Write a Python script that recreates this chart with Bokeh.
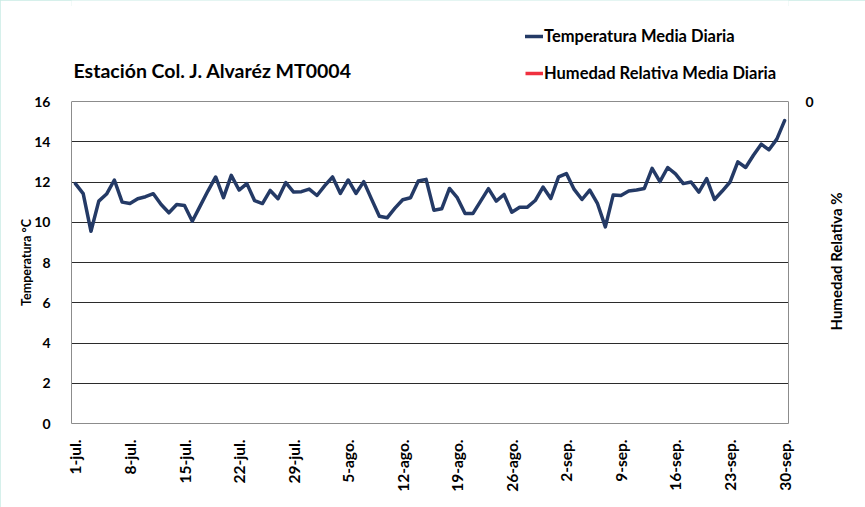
import math
from bokeh.plotting import figure
from bokeh.models import Range1d, LinearAxis, FixedTicker, Label, Legend, LegendItem, Span
from bokeh.embed import file_html
from bokeh.resources import INLINE

# ---- data ----
days = list(range(1, 93))
temps = [
    11.92, 11.42, 9.55, 11.05, 11.40, 12.10, 11.00, 10.93, 11.17, 11.27,
    11.42, 10.88, 10.47, 10.88, 10.83, 10.05, 10.80, 11.55, 12.25, 11.22,
    12.33, 11.60, 11.92, 11.07, 10.93, 11.58, 11.17, 11.97, 11.50, 11.52,
    11.65, 11.33, 11.82, 12.25, 11.43, 12.10, 11.43, 12.02, 11.15, 10.30,
    10.22, 10.70, 11.12, 11.22, 12.05, 12.13, 10.60, 10.67, 11.68, 11.22,
    10.43, 10.43, 11.05, 11.67, 11.05, 11.38, 10.50, 10.75, 10.75, 11.08,
    11.75, 11.18, 12.25, 12.42, 11.63, 11.13, 11.60, 10.92, 9.77, 11.35,
    11.33, 11.55, 11.60, 11.68, 12.68, 12.02, 12.72, 12.40, 11.92, 12.00,
    11.50, 12.17, 11.13, 11.55, 12.00, 13.00, 12.72, 13.33, 13.88, 13.60,
    14.13, 15.05,
]
# the humidity series has no visible readings in the chart
humidity = [float("nan")] * len(days)

tick_days = [1, 8, 15, 22, 29, 36, 43, 50, 57, 64, 71, 78, 85, 92]
tick_labels = ["1-jul.", "8-jul.", "15-jul.", "22-jul.", "29-jul.", "5-ago.",
               "12-ago.", "19-ago.", "26-ago.", "2-sep.", "9-sep.", "16-sep.",
               "23-sep.", "30-sep."]
y_ticks = [0, 2, 4, 6, 8, 10, 12, 14, 16]
grid_ticks = [2, 4, 6, 8, 10, 12, 14]
hum_ticks = [0]

title_text = "Estación Col. J. Alvaréz  MT0004"
temp_name = "Temperatura Media Diaria"
hum_name = "Humedad Relativa Media Diaria"
ylabel_left = "Temperatura °C"
ylabel_right = "Humedad Relativa %"

FONT = "Lato"
BORDER = "#8c8c8c"

# Frame reaches the top of the canvas so title/legend (above the 16 line)
# are drawn inside it; axis bounds keep the axes between 0 and 16.
Y_TOP = 16 + 101 / 20.125

p = figure(width=865, height=507,
           x_range=Range1d(0.5, 92.5), y_range=Range1d(0, Y_TOP),
           output_backend="svg", toolbar_location=None,
           min_border_left=71, min_border_right=77,
           min_border_top=0, min_border_bottom=84)
p.background_fill_color = "white"
p.border_fill_color = "white"
p.outline_line_color = None
p.styles = {"outline": "6px solid #c9ebe4", "outline-offset": "-6px"}

p.extra_y_ranges = {"hum": Range1d(-16, Y_TOP - 16)}

# grid
p.xgrid.grid_line_color = None
p.ygrid.ticker = FixedTicker(ticks=grid_ticks)
p.ygrid.grid_line_color = "#2b2b2b"
p.ygrid.grid_line_width = 1
p.add_layout(Span(location=16, dimension="width", line_color=BORDER, line_width=1))

# x axis
xa = p.xaxis[0]
xa.ticker = FixedTicker(ticks=tick_days)
xa.major_label_overrides = {d: l for d, l in zip(tick_days, tick_labels)}
xa.major_label_orientation = math.pi / 2
xa.major_label_text_font = FONT
xa.major_label_text_font_style = "bold"
xa.major_label_text_font_size = "15.5px"
xa.major_label_text_color = "black"
xa.major_label_standoff = 10
xa.axis_line_color = BORDER
xa.major_tick_line_color = None
xa.minor_tick_line_color = None

# left y axis
ya = p.yaxis[0]
ya.ticker = FixedTicker(ticks=y_ticks)
ya.bounds = (0, 16)
ya.major_label_text_font = FONT
ya.major_label_text_font_style = "bold"
ya.major_label_text_font_size = "14px"
ya.major_label_text_color = "black"
ya.major_label_standoff = 15
ya.axis_line_color = BORDER
ya.major_tick_line_color = None
ya.minor_tick_line_color = None

# left axis title, centred on the 0..16 span
yl = LinearAxis(ticker=FixedTicker(ticks=[8]), major_label_overrides={8: ylabel_left})
yl.major_label_orientation = "parallel"
yl.axis_line_color = None
yl.major_tick_line_color = None
yl.minor_tick_line_color = None
yl.major_label_text_font = FONT
yl.major_label_text_font_style = "bold"
yl.major_label_text_font_size = "12.5px"
yl.major_label_text_color = "black"
yl.major_label_standoff = -8
p.add_layout(yl, "left")

# right axis (humidity)
ra = LinearAxis(y_range_name="hum", ticker=FixedTicker(ticks=hum_ticks))
ra.bounds = (-16, 0)
ra.axis_line_color = BORDER
ra.major_tick_line_color = None
ra.minor_tick_line_color = None
ra.major_label_text_font = FONT
ra.major_label_text_font_style = "bold"
ra.major_label_text_font_size = "14px"
ra.major_label_text_color = "black"
ra.major_label_standoff = 11
p.add_layout(ra, "right")

# right axis title (reads bottom to top, starts at the tick)
HUM_LABEL_AT = -11.38
rl = LinearAxis(y_range_name="hum", ticker=FixedTicker(ticks=[HUM_LABEL_AT]),
                major_label_overrides={HUM_LABEL_AT: ylabel_right})
rl.major_label_orientation = math.pi / 2
rl.axis_line_color = None
rl.major_tick_line_color = None
rl.minor_tick_line_color = None
rl.major_label_text_font = FONT
rl.major_label_text_font_style = "bold"
rl.major_label_text_font_size = "15px"
rl.major_label_text_color = "black"
rl.major_label_standoff = 14
p.add_layout(rl, "right")

# series
r_temp = p.line(days, temps, line_color="#243a66", line_width=3.5,
                line_join="round", line_cap="round")
r_hum = p.line(days, humidity, line_color="#f0303f", line_width=3.5,
               y_range_name="hum")

legend = Legend(items=[LegendItem(label=temp_name, renderers=[r_temp]),
                       LegendItem(label=hum_name, renderers=[r_hum])],
                location=(454, 339))
legend.padding = 0
legend.margin = 0
legend.spacing = 15
legend.glyph_width = 18
legend.glyph_height = 22
legend.label_height = 22
legend.label_standoff = 1
legend.border_line_color = None
legend.background_fill_alpha = 0
legend.label_text_font = FONT
legend.label_text_font_style = "bold"
legend.label_text_font_size = "16.5px"
legend.label_text_color = "black"
p.add_layout(legend, "center")

# title
p.add_layout(Label(x=0.76, y=17.54, text=title_text, text_font=FONT,
                   text_font_style="bold", text_font_size="19.5px",
                   text_baseline="middle", text_align="left", text_color="black"))

open("out.html", "w").write(file_html(p, INLINE))
